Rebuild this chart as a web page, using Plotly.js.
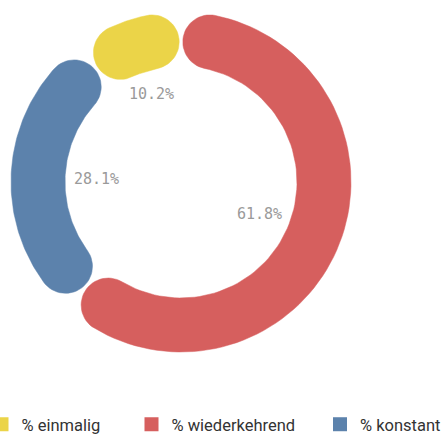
<!DOCTYPE html>
<html>
<head>
<meta charset="utf-8">
<script src="https://cdn.plot.ly/plotly-3.0.1.min.js"></script>
<style>html,body{margin:0;padding:0;background:#fff;}#chart{width:445px;height:434px;}</style>
</head>
<body>
<div id="chart"></div>
<script>
// ---- data ----
const categories = ["% einmalig", "% wiederkehrend", "% konstant"];
const values = [10.2, 61.8, 28.1];
const labels = ["10.2%", "61.8%", "28.1%"];
const colors = ["#EBD448", "#D65F5E", "#5C82AC"];
// drawing order clockwise from top
const order = [1, 2, 0];

// ---- geometry ----
const W = 445, H = 434;
const CX = 181, CY = 182;          // ring centre in page pixels
const RC = 143, CAP = 27, GAP = 2; // centre radius, half thickness, gap
const R_IN = RC - CAP;

function pt(r, deg) {
  const a = deg * Math.PI / 180;
  return [r * Math.sin(a), r * Math.cos(a)];
}

const total = values.reduce((a, b) => a + b, 0);
const traces = [];
const annotations = [];
let start = 0;
order.forEach(i => {
  const span = values[i] / total * 360;
  const a0 = start, a1 = start + span;
  start = a1;
  const d = (CAP + GAP) / RC * 180 / Math.PI;
  const s = a0 + d, e = a1 - d;
  const xs = [], ys = [];
  const N = 80;
  for (let k = 0; k <= N; k++) {
    const [x, y] = pt(RC + CAP, s + (e - s) * k / N);
    xs.push(x); ys.push(y);
  }
  const ea = e * Math.PI / 180;
  let u = [Math.sin(ea), Math.cos(ea)], t = [Math.cos(ea), -Math.sin(ea)];
  let P = pt(RC, e);
  for (let k = 0; k <= 30; k++) {
    const f = Math.PI * k / 30;
    xs.push(P[0] + CAP * (Math.cos(f) * u[0] + Math.sin(f) * t[0]));
    ys.push(P[1] + CAP * (Math.cos(f) * u[1] + Math.sin(f) * t[1]));
  }
  for (let k = 0; k <= N; k++) {
    const [x, y] = pt(R_IN, e - (e - s) * k / N);
    xs.push(x); ys.push(y);
  }
  const sa = s * Math.PI / 180;
  u = [Math.sin(sa), Math.cos(sa)]; t = [Math.cos(sa), -Math.sin(sa)];
  P = pt(RC, s);
  for (let k = 0; k <= 30; k++) {
    const f = Math.PI + Math.PI * k / 30;
    xs.push(P[0] + CAP * (Math.cos(f) * u[0] + Math.sin(f) * t[0]));
    ys.push(P[1] + CAP * (Math.cos(f) * u[1] + Math.sin(f) * t[1]));
  }
  traces.push({
    type: "scatter", x: xs, y: ys, mode: "lines", fill: "toself",
    fillcolor: colors[i], line: {width: 0.5, color: colors[i]},
    showlegend: false, hoverinfo: "skip"
  });
  const m = (a0 + a1) / 2, mr = m * Math.PI / 180;
  const ext = Math.abs(Math.sin(mr)) * 23 + Math.abs(Math.cos(mr)) * 7;
  const [lx, ly] = pt(R_IN - 8 - ext, m);
  annotations.push({
    x: lx, y: ly - 1.5, xref: "x", yref: "y", text: labels[i], showarrow: false,
    font: {family: "DejaVu Sans Mono", size: 15, color: "#9a9a9a"},
    xanchor: "center", yanchor: "middle"
  });
});

// legend entries
const legendIds = ["legend", "legend2", "legend3"];
const legendX = [1.5, 151.5, 340];
categories.forEach((c, i) => {
  traces.push({
    type: "scatter", x: [null], y: [null], mode: "markers", name: c,
    marker: {symbol: "square", size: 14, color: colors[i]},
    legend: legendIds[i], hoverinfo: "skip"
  });
});

const legFont = {family: "Roboto", size: 16.5, color: "#333333"};
const layout = {
  width: W, height: H, autosize: false,
  margin: {l: 0, r: 0, t: 0, b: 0, autoexpand: false},
  paper_bgcolor: "#ffffff", plot_bgcolor: "#ffffff",
  xaxis: {range: [-CX, W - CX], visible: false, fixedrange: true},
  yaxis: {range: [-(H - CY), CY], visible: false, fixedrange: true},
  annotations: annotations,
  showlegend: true
};
legendIds.forEach((id, i) => {
  layout[id] = {
    orientation: "h", x: (legendX[i] - 20) / W, xanchor: "left",
    y: (H - 424.5) / H, yanchor: "middle", font: legFont,
    bgcolor: "rgba(0,0,0,0)", borderwidth: 0, itemsizing: "trace"
  };
});

Plotly.newPlot("chart", traces, layout, {displayModeBar: false, staticPlot: true});
</script>
</body>
</html>
